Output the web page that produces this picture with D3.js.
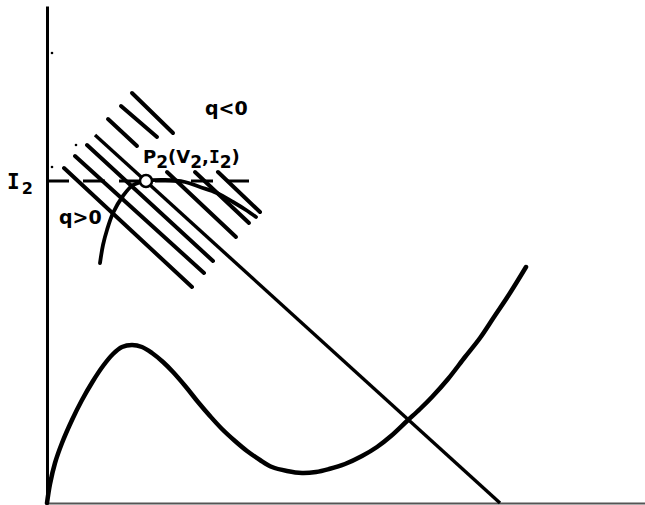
<!DOCTYPE html>
<html>
<head>
<meta charset="utf-8">
<script src="https://cdn.jsdelivr.net/npm/d3@7"></script>
<style>
  html, body { margin: 0; padding: 0; background: #fff; }
  svg { display: block; }
  text { font-family: "DejaVu Sans", sans-serif; font-weight: bold; fill: #000; }
  .mono { font-family: "DejaVu Sans Mono", monospace; }
</style>
</head>
<body>
<svg id="chart" width="645" height="505"></svg>
<script>
// ---------- data (arbitrary units: V along x, I along y) ----------
const vDomain = [0, 598];
const iDomain = [0, 497];

// N-shaped device characteristic
const deviceV = [0, 3, 8, 15, 25, 35, 46, 56, 66, 75, 85, 95, 105, 116, 126, 139, 151, 163, 175, 188, 200, 213, 225, 240, 255, 269, 282, 298, 315, 330, 344, 360, 373, 385, 401, 418, 433, 447, 463, 479];
const deviceI = [0, 19, 40, 60, 83, 103, 122, 137, 149, 156, 158, 156, 150, 141, 131, 116, 101, 87, 74, 62, 52, 43, 36, 32, 30, 31, 34, 39, 47, 56, 67, 82, 94, 106, 124, 146, 165, 186, 210, 236];

// load line (end points)
const loadV = [48, 453];
const loadI = [368, 0];

// hatch lines parallel to the load line: start/end points
const hatchV1 = [17, 28, 40, 61, 74, 85, 120, 148, 171];
const hatchI1 = [335, 347, 358, 384, 397, 410, 331, 331, 331];
const hatchV2 = [145, 157, 166, 90, 110, 126, 189, 202, 213];
const hatchI2 = [216, 230, 242, 357, 366, 370, 266, 280, 291];

// q = 0 boundary curve through P2
const arcV = [53, 56, 60, 66, 76, 86, 99, 118, 138, 153, 170, 186, 199, 209];
const arcI = [240, 258, 273, 290, 307, 318, 322, 323, 321, 316, 310, 301, 293, 286];

// operating point P2 and I2 level
const V2 = 99;
const I2 = 322;
const dashEndV = 203;

// labels
const labelI2 = "I";
const labelSub = "2";
const labelQpos = "q>0";
const labelQneg = "q<0";

// small specks from the original print
const speckV = [5, 29, 5];
const speckI = [450, 358, 336];

// ---------- drawing ----------
const svg = d3.select("#chart");
const x = d3.scaleLinear().domain(vDomain).range([47, 645]);
const y = d3.scaleLinear().domain(iDomain).range([503, 6]);

// axes (no ticks)
svg.append("g")
  .attr("transform", `translate(0,${y(0)})`)
  .call(d3.axisBottom(x).tickValues([]).tickSizeOuter(0))
  .call(g => g.select(".domain").attr("stroke", "#555").attr("stroke-width", 2));
svg.append("g")
  .attr("transform", `translate(${x(0)},0)`)
  .call(d3.axisLeft(y).tickValues([]).tickSizeOuter(0))
  .call(g => g.select(".domain").attr("stroke", "#000").attr("stroke-width", 3));

// device curve
const devicePts = deviceV.map((v, k) => [v, deviceI[k]]);
svg.append("path")
  .attr("d", d3.line().x(d => x(d[0])).y(d => y(d[1])).curve(d3.curveCatmullRom)(devicePts))
  .attr("fill", "none").attr("stroke", "#000").attr("stroke-width", 4.5)
  .attr("stroke-linecap", "round");

// load line
svg.append("line")
  .attr("x1", x(loadV[0])).attr("y1", y(loadI[0]))
  .attr("x2", x(loadV[1])).attr("y2", y(loadI[1]))
  .attr("stroke", "#000").attr("stroke-width", 3.4);

// hatch lines
svg.append("g").selectAll("line")
  .data(hatchV1.map((v, k) => ({v1: v, i1: hatchI1[k], v2: hatchV2[k], i2: hatchI2[k]})))
  .join("line")
  .attr("x1", d => x(d.v1)).attr("y1", d => y(d.i1))
  .attr("x2", d => x(d.v2)).attr("y2", d => y(d.i2))
  .attr("stroke", "#000").attr("stroke-width", 4)
  .attr("stroke-linecap", "round");

// dashed I2 line
svg.append("line")
  .attr("x1", x(0)).attr("y1", y(I2))
  .attr("x2", x(dashEndV)).attr("y2", y(I2))
  .attr("stroke", "#000").attr("stroke-width", 3)
  .attr("stroke-dasharray", "22,14");

// q=0 arc
const arcPts = arcV.map((v, k) => [v, arcI[k]]);
svg.append("path")
  .attr("d", d3.line().x(d => x(d[0])).y(d => y(d[1])).curve(d3.curveCatmullRom)(arcPts))
  .attr("fill", "none").attr("stroke", "#000").attr("stroke-width", 3.8)
  .attr("stroke-linecap", "round");

// P2 marker
svg.append("circle")
  .attr("cx", x(V2)).attr("cy", y(I2)).attr("r", 6)
  .attr("fill", "#fff").attr("stroke", "#000").attr("stroke-width", 2.5);

// specks
svg.append("g").selectAll("circle")
  .data(speckV.map((v, k) => [v, speckI[k]]))
  .join("circle")
  .attr("cx", d => x(d[0])).attr("cy", d => y(d[1])).attr("r", 1.3).attr("fill", "#000");

// I2 axis label
const tI = svg.append("text").attr("x", 7).attr("y", y(I2) + 8);
tI.append("tspan").attr("class", "mono").style("font-size", "21px").text(labelI2);
tI.append("tspan").attr("dx", 2).attr("dy", 5).style("font-size", "16px").text(labelSub);

// q>0 / q<0
svg.append("text").attr("x", 59).attr("y", 224).style("font-size", "19px").text(labelQpos);
svg.append("text").attr("x", 205).attr("y", 115).style("font-size", "19px").text(labelQneg);

// P2(V2,I2)
const tP = svg.append("text").attr("x", 143).attr("y", 163).style("font-size", "18px");
tP.append("tspan").text("P");
tP.append("tspan").attr("dy", 5).style("font-size", "17px").text("2");
tP.append("tspan").attr("dy", -5).text("(V");
tP.append("tspan").attr("dy", 5).style("font-size", "17px").text("2");
tP.append("tspan").attr("dy", -5).text(",");
tP.append("tspan").attr("class", "mono").text("I");
tP.append("tspan").attr("dy", 5).style("font-size", "17px").text("2");
tP.append("tspan").attr("dy", -5).text(")");
</script>
</body>
</html>
